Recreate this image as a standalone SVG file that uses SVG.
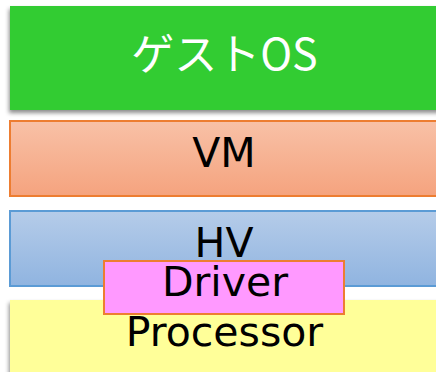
<svg xmlns="http://www.w3.org/2000/svg" width="436" height="372" viewBox="0 0 436 372">
  <defs>
    <linearGradient id="gradVM" x1="0" y1="0" x2="0" y2="1">
      <stop offset="0" stop-color="#f8c1a7"/>
      <stop offset="1" stop-color="#f5a37e"/>
    </linearGradient>
    <linearGradient id="gradHV" x1="0" y1="0" x2="0" y2="1">
      <stop offset="0" stop-color="#b5cce9"/>
      <stop offset="1" stop-color="#90b4e0"/>
    </linearGradient>
    <filter id="shadow" x="-5%" y="-10%" width="110%" height="130%">
      <feDropShadow dx="-1" dy="3" stdDeviation="2.2" flood-color="#000" flood-opacity="0.45"/>
    </filter>
  </defs>
  <style>
    .lbl { font-family: "DejaVu Sans", "Noto Sans CJK JP", sans-serif; font-size: 41px; text-anchor: middle; fill: #000; }
    .jp { font-family: "Noto Sans CJK JP", sans-serif; font-size: 43px; text-anchor: middle; fill: #fff; }
  </style>
  <rect width="436" height="372" fill="#fff"/>

  <!-- guest OS layer -->
  <g id="guestos">
    <rect x="10" y="6" width="440" height="104" fill="#33cc33" filter="url(#shadow)"/>
    <text class="jp" x="224.5" y="70">ゲストOS</text>
  </g>

  <!-- virtual machine layer -->
  <g id="vm">
    <rect x="10" y="121" width="440" height="75" fill="url(#gradVM)" stroke="#ed7d31" stroke-width="2"/>
    <text class="lbl" x="224" y="167">VM</text>
  </g>

  <!-- hypervisor layer -->
  <g id="hv">
    <rect x="10" y="211" width="440" height="75" fill="url(#gradHV)" stroke="#5b9bd5" stroke-width="2"/>
    <text class="lbl" x="224" y="257">HV</text>
  </g>

  <!-- processor layer -->
  <g id="processor">
    <rect x="10" y="300" width="440" height="90" fill="#ffff99" filter="url(#shadow)"/>
    <text class="lbl" x="224.5" y="346">Processor</text>
  </g>

  <!-- driver sitting between hypervisor and processor -->
  <g id="driver">
    <rect x="104" y="261" width="240" height="53" fill="#ff99ff" stroke="#ed7d31" stroke-width="2"/>
    <text class="lbl" x="225" y="296">Driver</text>
  </g>
</svg>
